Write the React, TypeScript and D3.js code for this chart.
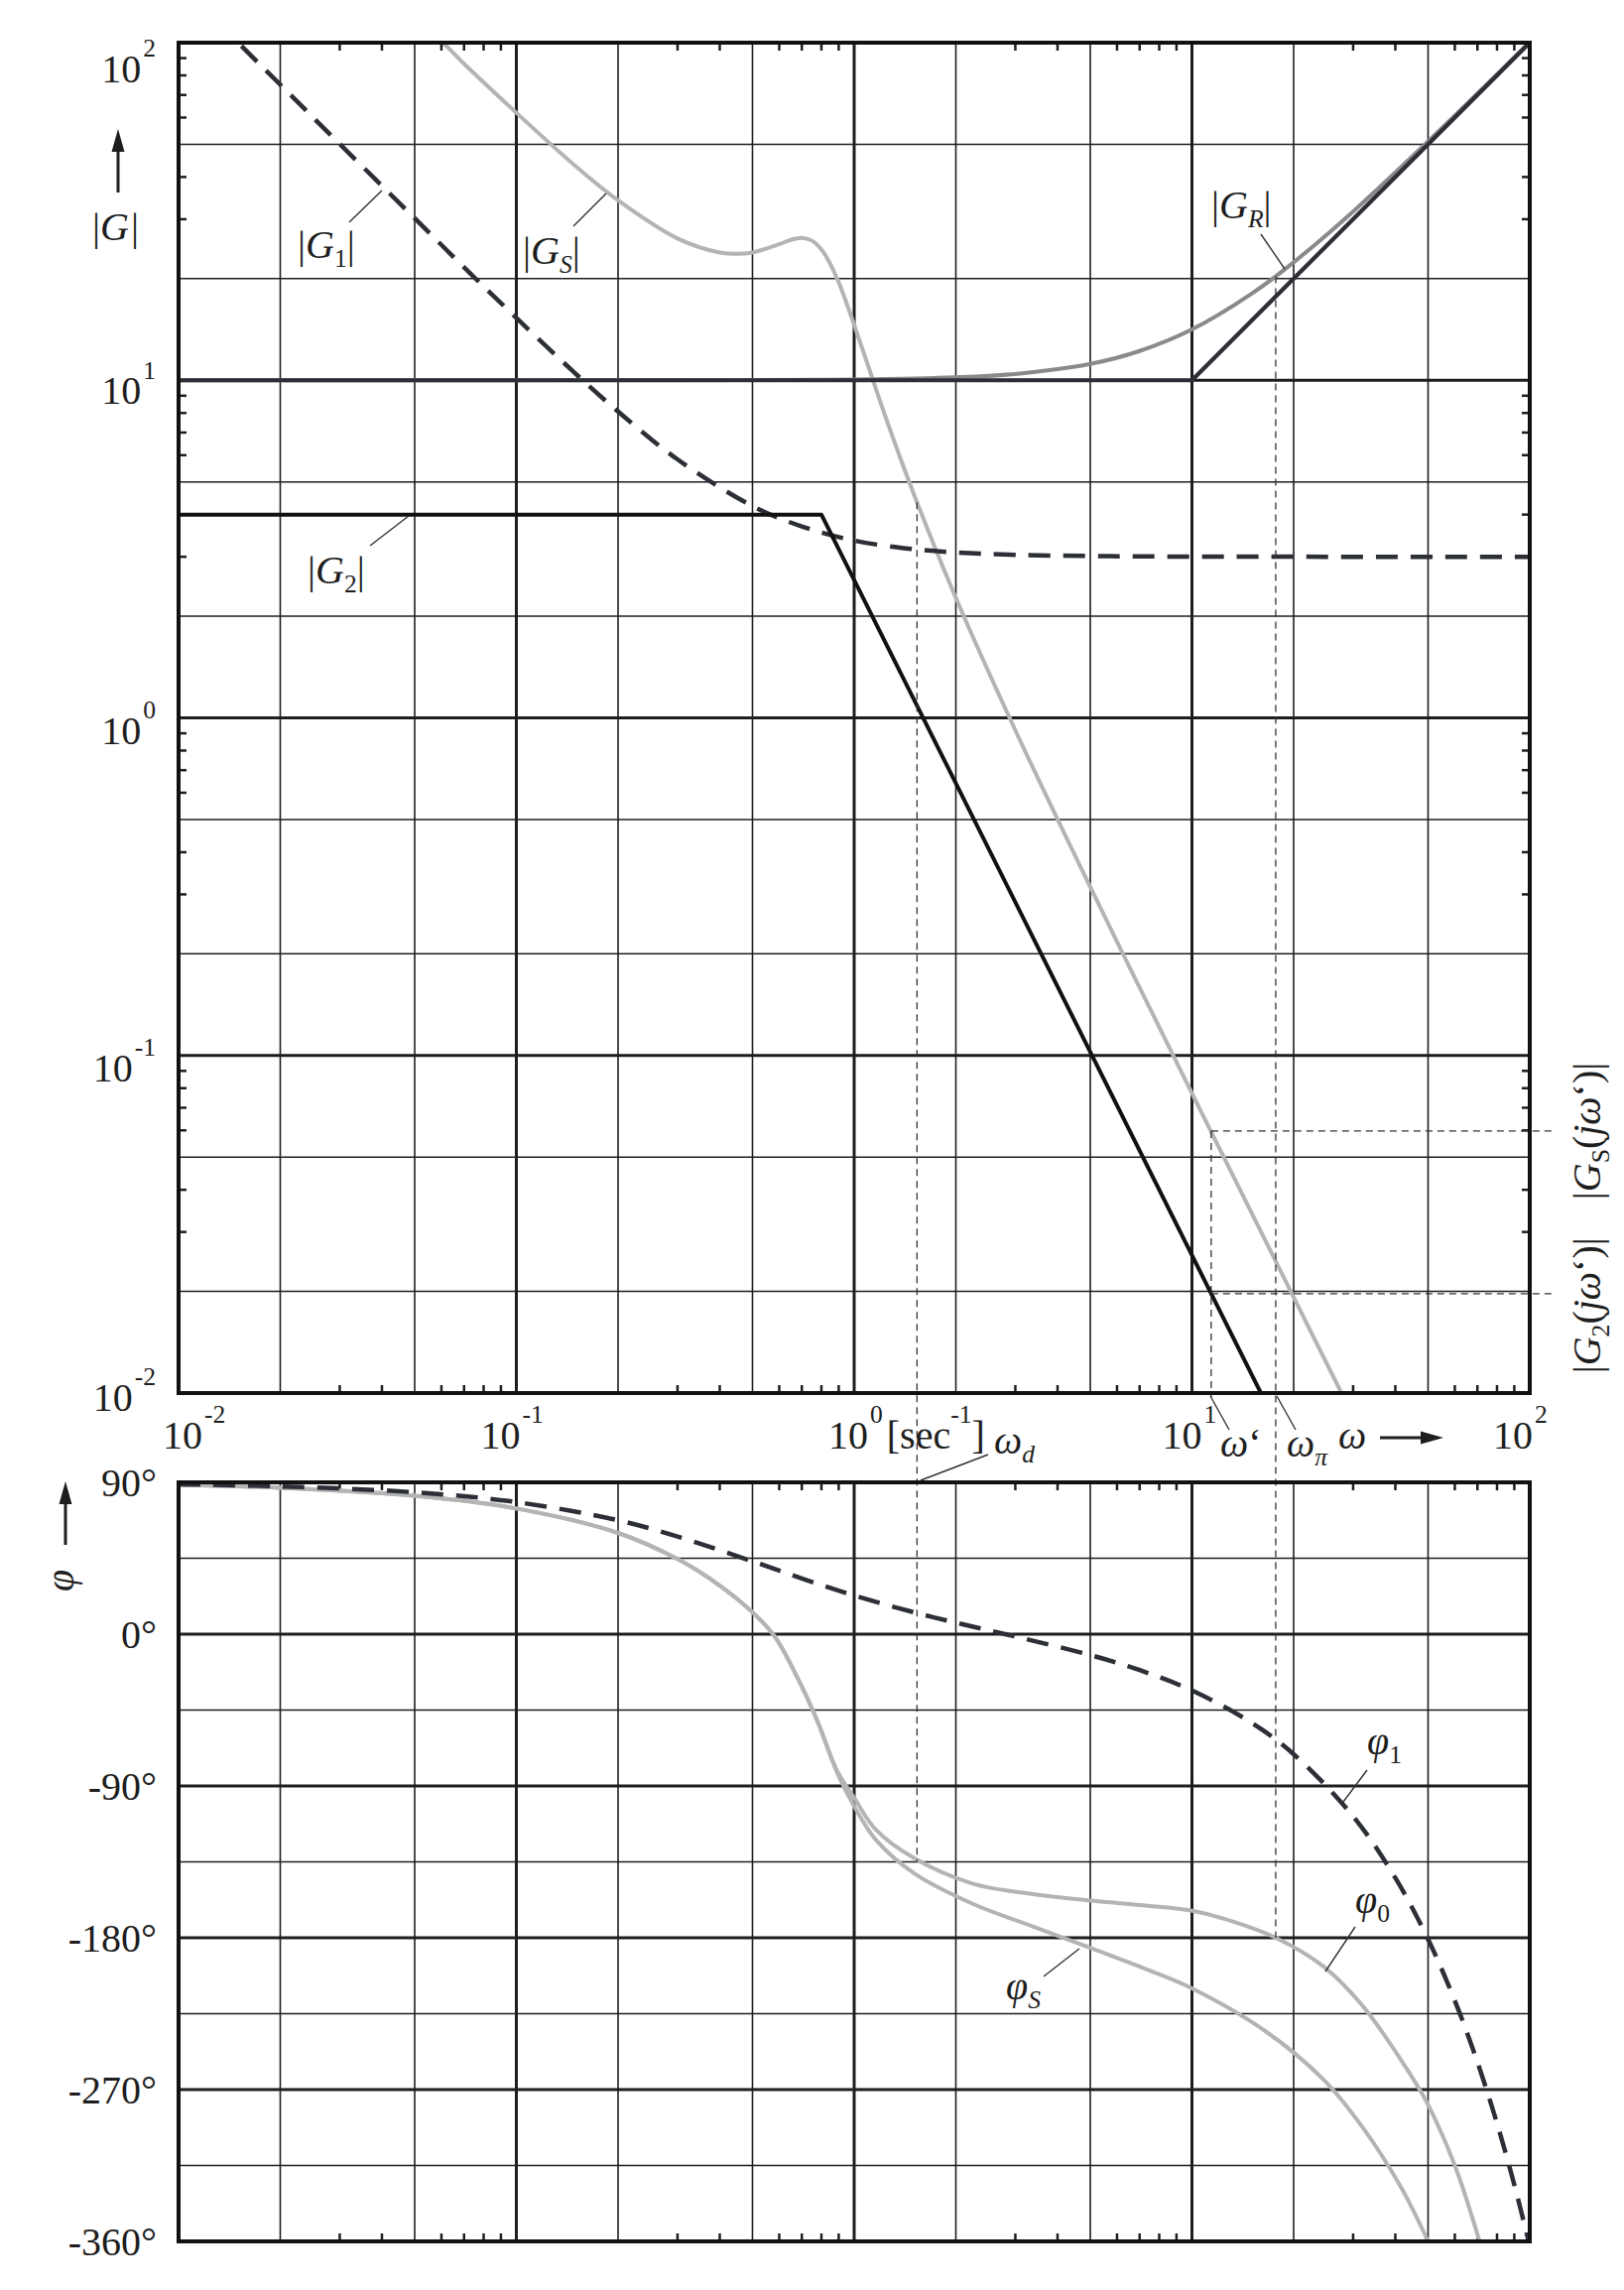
import React from 'react';
import * as d3 from 'd3';

// ---------- axis definitions ----------
const decades = [0.01, 0.1, 1, 10, 100];
const decadeExp = ['-2', '-1', '0', '1', '2'];
const gridMult = [2, 5];
const minorMult = [3, 4, 6, 7, 8, 9];
const phaseMajor = [90, 0, -90, -180, -270, -360];
const phaseLabels = ['90°', '0°', '-90°', '-180°', '-270°', '-360°'];
const phaseMinor = [45, -45, -135, -225, -315];

// ---------- magnitude series ----------
const gRAsymOmega = [0.01, 10, 100];
const gRAsymMag = [10, 10, 100];

const gROmega = [0.01, 0.5, 1, 2, 3, 5, 7, 10, 15, 20, 30, 50, 70, 100];
const gRMag = [10, 10.01, 10.05, 10.2, 10.44, 11.18, 12.21, 14.14, 18.03, 22.36, 31.62, 50.99, 70.71, 100.5];

const g1Omega = [0.013, 0.015, 0.02, 0.03, 0.05, 0.07, 0.1, 0.15, 0.2, 0.3, 0.5, 0.7, 1, 1.5, 2, 3, 5, 10, 100];
const g1Mag = [115.4, 100.0, 75.1, 50.1, 30.2, 21.6, 15.3, 10.44, 8.08, 5.83, 4.24, 3.69, 3.35, 3.16, 3.09, 3.04, 3.015, 3.004, 3.0];

const g2Omega = [0.01, 0.8, 16];
const g2Mag = [4, 4, 0.01];

const gSOmega = [0.055, 0.06, 0.07, 0.1, 0.15, 0.2, 0.3, 0.4, 0.45, 0.5, 0.6, 0.65, 0.7, 0.75, 0.8, 0.85, 0.9, 0.95, 1.0, 1.1, 1.25, 1.5, 2, 3, 5, 7, 10, 15, 20, 28, 30];
const gSMag = [110.2, 101.2, 86.6, 62.0, 43.0, 34.1, 26.3, 23.9, 23.7, 23.9, 25.3, 26.06, 26.4, 25.9, 24.4, 22.1, 19.5, 16.9, 14.6, 11.03, 7.59, 4.615, 2.268, 0.919, 0.3155, 0.1589, 0.0773, 0.03423, 0.01923, 0.0098, 0.00854];

// ---------- phase series ----------
const phi1Omega = [0.01, 0.02, 0.05, 0.1, 0.2, 0.3, 0.5, 0.7, 1, 1.5, 2, 3, 5, 7, 10, 15, 20, 30, 40, 50, 60, 70, 80, 90, 100];
const phi1Deg = [88.8, 87.6, 84.1, 78.3, 67.5, 57.9, 43.2, 33.0, 22.9, 13.0, 6.8, -1.4, -12.4, -21.3, -33.4, -52.5, -71.2, -108.0, -144.5, -180.9, -217.3, -253.7, -290.0, -326.4, -362.7];

const phiSOmega = [0.01, 0.02, 0.05, 0.1, 0.2, 0.3, 0.4, 0.5, 0.58, 0.68, 0.78, 0.89, 1.0, 1.16, 1.51, 2.25, 3.35, 5, 7.4, 10, 16.4, 24.5, 31.9, 41.6, 50];
const phiSDeg = [88.5, 86.8, 82.0, 74.5, 60.0, 44.5, 28.8, 13.0, -1.0, -26.0, -52.0, -82.0, -102.0, -122.0, -142.0, -160.0, -173.0, -186.0, -199.0, -210.0, -235.0, -264.0, -292.0, -328.0, -360.0];

const phi0Omega = [0.01, 0.02, 0.05, 0.1, 0.2, 0.3, 0.4, 0.5, 0.58, 0.68, 0.78, 0.89, 1.0, 1.16, 1.51, 2.25, 3.35, 5, 7.4, 10, 12.6, 17.7, 24.5, 31.9, 41.6, 49.4, 60, 71];
const phi0Deg = [88.5, 86.8, 82.0, 74.5, 60.0, 44.5, 28.8, 13.0, -1.0, -26.0, -52.0, -81.0, -97.0, -116.0, -133.0, -148.0, -154.0, -158.0, -161.0, -164.0, -169.0, -180.0, -197.0, -220.0, -252.5, -277.0, -315.0, -360.0];

// ---------- characteristic frequencies ----------
const omegaD = 1.535;
const omegaPi = 17.7;
const omegaPrime = 11.4;
const gSAtD = 4.35;
const gRAtPi = 20.3;
const gSAtPrime = 0.0597;
const g2AtPrime = 0.0197;
const phiAtD = -135;
const phiAtPi = -180;

const FONT = '"Liberation Serif", "DejaVu Serif", "Times New Roman", serif';
const INK = '#1e1e1e';
const DARK = '#2c2f36';
const MID = '#8a8a8a';
const LIGHT = '#b4b4b4';

type Seg = { t: string; i?: boolean; s?: 'sub' | 'sup'; dx?: number };

function MathText(props: { x?: number; y?: number; segs: Seg[]; size?: number; anchor?: string; transform?: string }) {
  const size = props.size ?? 40;
  let cur = 0;
  const kids = props.segs.map((sg, k) => {
    const target = sg.s === 'sub' ? size * 0.22 : sg.s === 'sup' ? -size * 0.64 : 0;
    const dy = target - cur;
    cur = target;
    return (
      <tspan key={k} dy={dy} dx={sg.dx ?? 0} fontStyle={sg.i ? 'italic' : 'normal'} fontSize={sg.s ? size * 0.64 : size}>
        {sg.t}
      </tspan>
    );
  });
  return (
    <text x={props.x ?? 0} y={props.y ?? 0} textAnchor={props.anchor ?? 'start'} transform={props.transform} fontFamily={FONT} fontSize={size} fill={INK}>
      {kids}
    </text>
  );
}

const magLabelShift = [18, 26, 26, 24, 40];
const xLabelStart = [-16, -36, -26, -30, -37];

export default function App() {
  const X0 = 180, X1 = 1542;
  const TT = 43, TB = 1404;
  const BT = 1494, BB = 2259;
  const x = d3.scaleLog().domain([0.01, 100]).range([X0, X1]);
  const yM = d3.scaleLog().domain([0.01, 100]).range([TB, TT]);
  const yP = d3.scaleLinear().domain([-360, 90]).range([BB, BT]);

  const zip = (a: number[], b: number[]) => a.map((v, i) => [v, b[i]] as [number, number]);
  const magSmooth = d3.line<[number, number]>().x(d => x(d[0])).y(d => yM(d[1])).curve(d3.curveCatmullRom.alpha(0.5));
  const magLin = d3.line<[number, number]>().x(d => x(d[0])).y(d => yM(d[1]));
  const phSmooth = d3.line<[number, number]>().x(d => x(d[0])).y(d => yP(d[1])).curve(d3.curveCatmullRom.alpha(0.5));

  const lowDecades = decades.slice(0, 4);
  const xMinorGrid = lowDecades.flatMap(d => gridMult.map(m => d * m));
  const xMinorTicks = lowDecades.flatMap(d => minorMult.map(m => d * m));
  const yMinorGrid = xMinorGrid;
  const yMinorTicks = xMinorTicks;
  const TL = 8;

  const guide = { stroke: '#333', strokeWidth: 1.3, strokeDasharray: '7 5', fill: 'none' };
  const pointer = { stroke: '#333', strokeWidth: 1.4 };

  return (
    <svg width={1637} height={2308} style={{ position: 'absolute', left: 0, top: 0, background: '#fff' }}>
      <defs>
        <clipPath id="clipTop"><rect x={X0} y={TT} width={X1 - X0} height={TB - TT} /></clipPath>
        <clipPath id="clipBot"><rect x={X0} y={BT} width={X1 - X0} height={BB - BT} /></clipPath>
      </defs>
      <rect x={0} y={0} width={1637} height={2308} fill="#fff" />

      {/* ===== top panel grid ===== */}
      <g>
        {xMinorGrid.map((v, i) => <line key={'tx' + i} x1={x(v)} x2={x(v)} y1={TT} y2={TB} stroke={INK} strokeWidth={1.6} />)}
        {yMinorGrid.map((v, i) => <line key={'ty' + i} x1={X0} x2={X1} y1={yM(v)} y2={yM(v)} stroke={INK} strokeWidth={1.6} />)}
        {decades.map((v, i) => <line key={'tX' + i} x1={x(v)} x2={x(v)} y1={TT} y2={TB} stroke={INK} strokeWidth={3} />)}
        {decades.map((v, i) => <line key={'tY' + i} x1={X0} x2={X1} y1={yM(v)} y2={yM(v)} stroke={INK} strokeWidth={3} />)}
        {xMinorTicks.map((v, i) => (
          <g key={'tmt' + i}>
            <line x1={x(v)} x2={x(v)} y1={TT} y2={TT + TL} stroke={INK} strokeWidth={2.5} />
            <line x1={x(v)} x2={x(v)} y1={TB} y2={TB - TL} stroke={INK} strokeWidth={2.5} />
          </g>
        ))}
        {yMinorTicks.map((v, i) => (
          <g key={'tmy' + i}>
            <line x1={X0} x2={X0 + TL} y1={yM(v)} y2={yM(v)} stroke={INK} strokeWidth={2.5} />
            <line x1={X1} x2={X1 - TL} y1={yM(v)} y2={yM(v)} stroke={INK} strokeWidth={2.5} />
          </g>
        ))}
      </g>

      {/* ===== bottom panel grid ===== */}
      <g>
        {xMinorGrid.map((v, i) => <line key={'bx' + i} x1={x(v)} x2={x(v)} y1={BT} y2={BB} stroke={INK} strokeWidth={1.6} />)}
        {phaseMinor.map((v, i) => <line key={'by' + i} x1={X0} x2={X1} y1={yP(v)} y2={yP(v)} stroke={INK} strokeWidth={1.6} />)}
        {decades.map((v, i) => <line key={'bX' + i} x1={x(v)} x2={x(v)} y1={BT} y2={BB} stroke={INK} strokeWidth={3} />)}
        {phaseMajor.map((v, i) => <line key={'bY' + i} x1={X0} x2={X1} y1={yP(v)} y2={yP(v)} stroke={INK} strokeWidth={3} />)}
        {xMinorTicks.map((v, i) => (
          <g key={'bmt' + i}>
            <line x1={x(v)} x2={x(v)} y1={BT} y2={BT + TL} stroke={INK} strokeWidth={2.5} />
            <line x1={x(v)} x2={x(v)} y1={BB} y2={BB - TL} stroke={INK} strokeWidth={2.5} />
          </g>
        ))}
      </g>

      {/* ===== magnitude curves ===== */}
      <g clipPath="url(#clipTop)" fill="none" strokeLinejoin="round">
        <path d={magSmooth(zip(gSOmega, gSMag)) || ''} stroke={LIGHT} strokeWidth={4} />
        <path d={magSmooth(zip(gROmega, gRMag)) || ''} stroke={MID} strokeWidth={4} />
        <path d={magSmooth(zip(g1Omega, g1Mag)) || ''} stroke={DARK} strokeWidth={4.5} strokeDasharray="22 13" />
        <path d={magLin(zip(g2Omega, g2Mag)) || ''} stroke="#111" strokeWidth={4} />
        <path d={magLin(zip(gRAsymOmega, gRAsymMag)) || ''} stroke={DARK} strokeWidth={4.2} />
      </g>

      {/* ===== phase curves ===== */}
      <g clipPath="url(#clipBot)" fill="none" strokeLinejoin="round">
        <path d={phSmooth(zip(phiSOmega, phiSDeg)) || ''} stroke={LIGHT} strokeWidth={4} />
        <path d={phSmooth(zip(phi0Omega, phi0Deg)) || ''} stroke={LIGHT} strokeWidth={4} />
        <path d={phSmooth(zip(phi1Omega, phi1Deg)) || ''} stroke={DARK} strokeWidth={4.5} strokeDasharray="22 13" />
      </g>

      {/* ===== guide lines ===== */}
      <line x1={x(omegaD)} x2={x(omegaD)} y1={yM(gSAtD)} y2={yP(phiAtD)} {...guide} />
      <line x1={x(omegaPi)} x2={x(omegaPi)} y1={yM(gRAtPi)} y2={yP(phiAtPi)} {...guide} />
      <line x1={x(omegaPrime)} x2={x(omegaPrime)} y1={yM(gSAtPrime)} y2={TB + 4} {...guide} />
      <line x1={x(omegaPrime)} x2={1564} y1={yM(gSAtPrime)} y2={yM(gSAtPrime)} {...guide} />
      <line x1={x(omegaPrime)} x2={1564} y1={yM(g2AtPrime)} y2={yM(g2AtPrime)} {...guide} />

      {/* ===== frames ===== */}
      <rect x={X0} y={TT} width={X1 - X0} height={TB - TT} fill="none" stroke="#111" strokeWidth={4} />
      <rect x={X0} y={BT} width={X1 - X0} height={BB - BT} fill="none" stroke="#111" strokeWidth={4} />

      {/* ===== magnitude axis labels ===== */}
      {decades.map((v, i) => (
        <MathText key={'ml' + i} x={157} y={yM(v) + magLabelShift[i]} anchor="end" segs={[{ t: '10' }, { t: decadeExp[i], s: 'sup', dx: 2 }]} />
      ))}
      {/* frequency axis labels */}
      {decades.map((v, i) => (
        <MathText key={'xl' + i} x={x(v) + xLabelStart[i]} y={1460}
          segs={i === 2
            ? [{ t: '10' }, { t: decadeExp[i], s: 'sup', dx: 2 }, { t: '[sec', dx: 4 }, { t: '-1', s: 'sup' }, { t: ']' }]
            : [{ t: '10' }, { t: decadeExp[i], s: 'sup', dx: 2 }]} />
      ))}
      {/* phase axis labels */}
      {phaseMajor.map((v, i) => (
        <text key={'pl' + i} x={158} y={yP(v) + 14} textAnchor="end" fontFamily={FONT} fontSize={40} fill={INK}>{phaseLabels[i]}</text>
      ))}

      {/* ===== axis titles ===== */}
      <line x1={119} x2={119} y1={194} y2={148} stroke={INK} strokeWidth={3} />
      <polygon points="119,130 112.5,153 125.5,153" fill={INK} />
      <MathText x={93} y={242} segs={[{ t: '|' }, { t: 'G', i: true }, { t: '|', dx: 2 }]} />

      <line x1={66} x2={66} y1={1557} y2={1512} stroke={INK} strokeWidth={3} />
      <polygon points="66,1493 59.5,1516 72.5,1516" fill={INK} />
      <MathText transform="translate(74,1593) rotate(-90)" anchor="middle" segs={[{ t: 'φ', i: true }]} />

      <MathText x={1349} y={1460} segs={[{ t: 'ω', i: true }]} />
      <line x1={1391} x2={1435} y1={1449} y2={1449} stroke={INK} strokeWidth={3} />
      <polygon points="1455,1449 1432,1442.5 1432,1455.5" fill={INK} />

      {/* ===== curve labels ===== */}
      <MathText x={300} y={260} segs={[{ t: '|' }, { t: 'G', i: true }, { t: '1', s: 'sub' }, { t: '|' }]} />
      <line x1={352} y1={224} x2={385} y2={192} {...pointer} />

      <MathText x={527} y={266} segs={[{ t: '|' }, { t: 'G', i: true }, { t: 'S', i: true, s: 'sub' }, { t: '|' }]} />
      <line x1={578} y1={228} x2={611} y2={195} {...pointer} />

      <MathText x={1221} y={220} segs={[{ t: '|' }, { t: 'G', i: true }, { t: 'R', i: true, s: 'sub' }, { t: '|' }]} />
      <line x1={1271} y1={236} x2={1295} y2={271} {...pointer} />

      <MathText x={310} y={588} segs={[{ t: '|' }, { t: 'G', i: true }, { t: '2', s: 'sub' }, { t: '|' }]} />
      <line x1={373} y1={550} x2={412} y2={520} {...pointer} />

      <MathText x={1378} y={1768} segs={[{ t: 'φ', i: true }, { t: '1', s: 'sub' }]} />
      <line x1={1378} y1={1784} x2={1354} y2={1816} {...pointer} />

      <MathText x={1366} y={1928} segs={[{ t: 'φ', i: true }, { t: '0', s: 'sub' }]} />
      <line x1={1366} y1={1942} x2={1336} y2={1987} {...pointer} />

      <MathText x={1014} y={2015} segs={[{ t: 'φ', i: true }, { t: 'S', i: true, s: 'sub' }]} />
      <line x1={1052} y1={1992} x2={1088} y2={1964} {...pointer} />

      <MathText x={1002} y={1465} segs={[{ t: 'ω', i: true }, { t: 'd', i: true, s: 'sub' }]} />
      <line x1={996} y1={1466} x2={928} y2={1492} {...pointer} />

      <MathText x={1230} y={1468} segs={[{ t: 'ω', i: true }, { t: '‘' }]} />
      <line x1={1239} y1={1441} x2={1220} y2={1407} {...pointer} />

      <MathText x={1297} y={1468} segs={[{ t: 'ω', i: true }, { t: 'π', i: true, s: 'sub' }]} />
      <line x1={1306} y1={1441} x2={1287} y2={1407} {...pointer} />

      {/* ===== right-side rotated labels ===== */}
      <MathText transform={`translate(1613,${yM(gSAtPrime)}) rotate(-90)`} anchor="middle"
        segs={[{ t: '|' }, { t: 'G', i: true }, { t: 'S', s: 'sub' }, { t: '(' }, { t: 'jω', i: true }, { t: '‘' }, { t: ')|' }]} />
      <MathText transform={`translate(1613,${yM(g2AtPrime) + 12}) rotate(-90)`} anchor="middle"
        segs={[{ t: '|' }, { t: 'G', i: true }, { t: '2', s: 'sub' }, { t: '(' }, { t: 'jω', i: true }, { t: '‘' }, { t: ')|' }]} />
    </svg>
  );
}
